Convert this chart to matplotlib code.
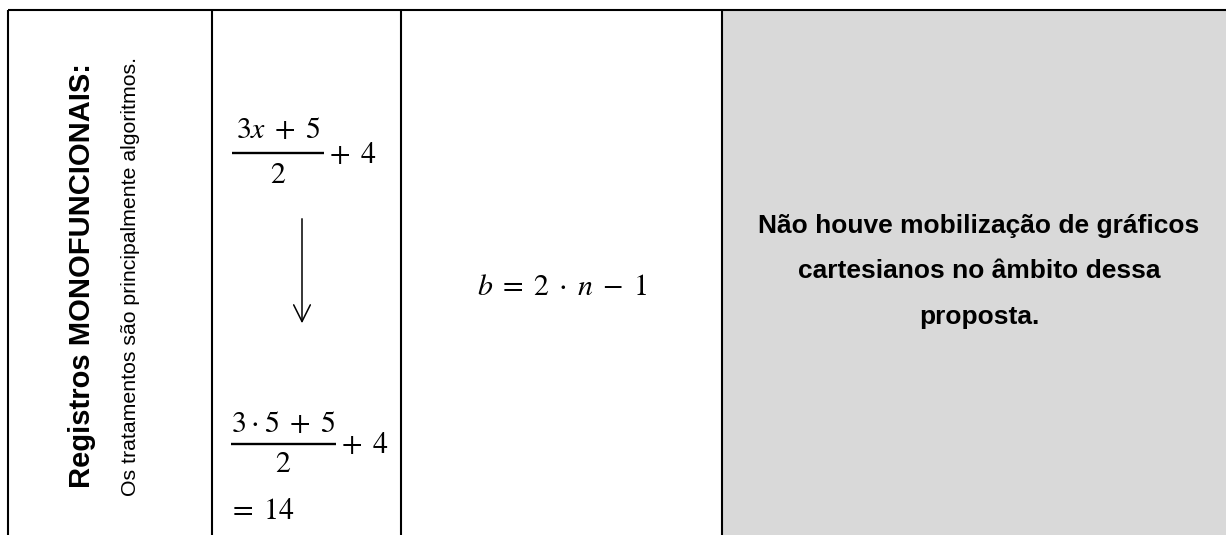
import matplotlib
matplotlib.use("Agg")
import matplotlib.pyplot as plt

plt.rcParams['mathtext.fontset'] = 'stix'

# column edges of the table (pixels) and header row line
col_edges = [8, 212, 401, 722]
top_line = 10
gray = "#d9d9d9"

title_bold = "Registros MONOFUNCIONAIS:"
title_sub = "Os tratamentos são principalmente algoritmos."
# fraction pieces: numerator, denominator, tail
frac_top = [r"$3x\;+\;5$", r"$2$", r"$+\ \,4$"]
frac_bottom = [r"$3\:\cdot\:5\;+\;5$", r"$2$", r"$+\ \,4$"]
expr_result = r"$=\;14$"
expr_col3 = r"$b\;=\;2\;\cdot\;n\;-\;1$"
col4_lines = ["Não houve mobilização de gráficos",
              "cartesianos no âmbito dessa",
              "proposta."]

W, H = 1226, 535
fig = plt.figure(figsize=(W / 100, H / 100), dpi=100)
ax = fig.add_axes([0, 0, 1, 1])
ax.set_xlim(0, W)
ax.set_ylim(H, 0)
ax.axis("off")

# gray cell
ax.fill_between([col_edges[3], W], top_line, H, color=gray, lw=0, zorder=0)

# grid lines
ax.plot([col_edges[0], W], [top_line, top_line], color="black", lw=1.5, solid_capstyle="butt")
for x in col_edges:
    ax.plot([x, x], [top_line, H], color="black", lw=1.5, solid_capstyle="butt")

# column 1: rotated texts
ax.text(82, 276, title_bold, rotation=90, ha="center", va="center",
        fontsize=21, fontweight="bold", family="Liberation Sans")
ax.text(130, 276, title_sub, rotation=90, ha="center", va="center",
        fontsize=15.3, family="Liberation Sans")

msize = 21.5


def fraction(parts, x0, x1, ybar, ynum, yden, xtail, ytail):
    cx = (x0 + x1) / 2
    ax.plot([x0, x1], [ybar, ybar], color="black", lw=1.7, solid_capstyle="butt")
    ax.text(cx, ynum, parts[0], ha="center", va="baseline", fontsize=msize)
    ax.text(cx, yden, parts[1], ha="center", va="baseline", fontsize=msize)
    ax.text(xtail, ytail, parts[2], ha="left", va="baseline", fontsize=msize)


# column 2: math
fraction(frac_top, 232, 324, 153, 138, 183, 329, 163)
ax.annotate("", xy=(302, 326), xytext=(302, 216),
            arrowprops=dict(arrowstyle="->,head_length=1.2,head_width=0.6", lw=1.1, color="black"))
fraction(frac_bottom, 231, 336, 444, 432, 472, 341, 453)
ax.text(228, 519, expr_result, ha="left", va="baseline", fontsize=msize)

# column 3
ax.text(562, 295, expr_col3, ha="center", va="baseline", fontsize=msize)

# column 4
for i, line in enumerate(col4_lines):
    ax.text(979, 233 + i * 45.5, line, ha="center", va="baseline",
            fontsize=19, fontweight="bold", family="Liberation Sans")

fig.savefig("out.png", dpi=100)
